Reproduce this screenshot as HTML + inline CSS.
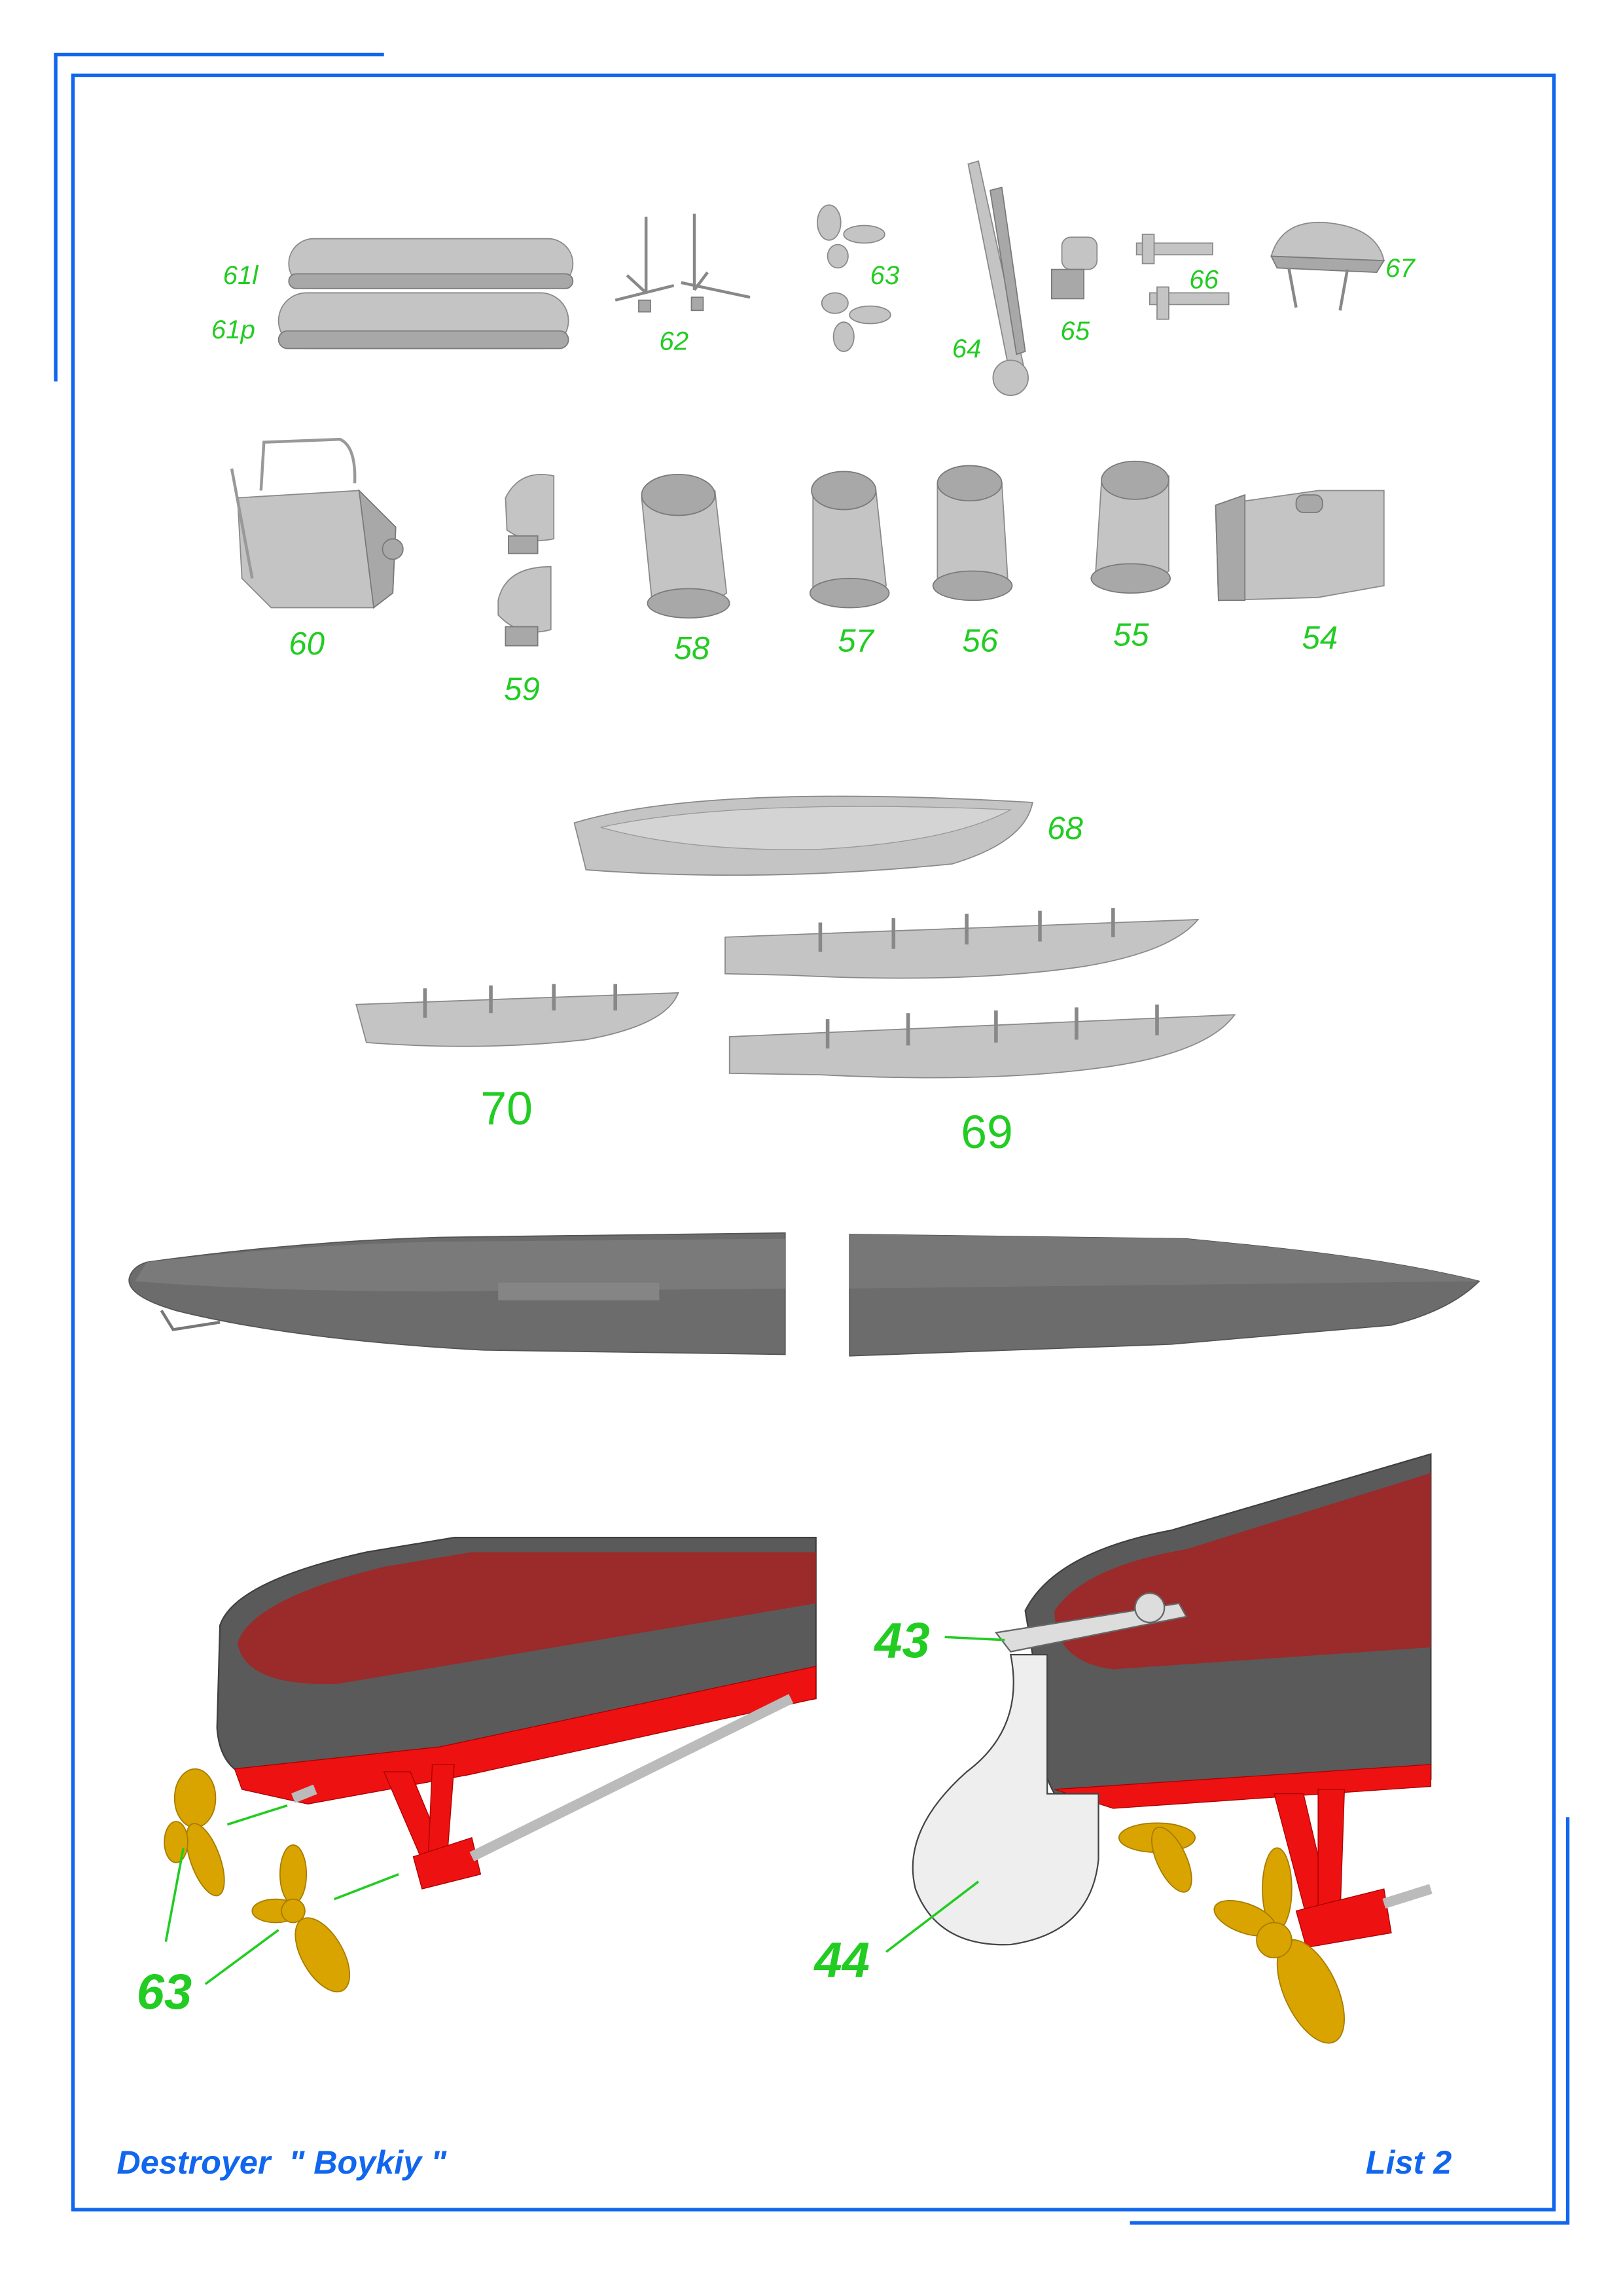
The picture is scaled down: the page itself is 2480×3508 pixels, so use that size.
<!DOCTYPE html>
<html><head><meta charset="utf-8"><style>
html,body{margin:0;padding:0;background:#fff;}
svg{display:block;}
.g{fill:#22cc22;font-family:"Liberation Sans",sans-serif;font-style:italic;}
.gb{fill:#22cc22;font-family:"Liberation Sans",sans-serif;font-style:italic;font-weight:bold;}
.b{fill:#1166ee;font-family:"Liberation Sans",sans-serif;font-style:italic;font-weight:bold;}
.p{fill:#c4c4c4;stroke:#8a8a8a;stroke-width:0.8;}
.pd{fill:#a8a8a8;stroke:#7a7a7a;stroke-width:0.8;}
.y{fill:#d9a400;stroke:#a67c00;stroke-width:0.8;}
.r{fill:#ee1111;stroke:#aa0000;stroke-width:0.6;}
.gl{stroke:#22cc22;stroke-width:1.6;fill:none;}
</style></head><body>
<svg width="2480" height="3508" viewBox="0 0 1108 1568" xmlns="http://www.w3.org/2000/svg">
<g fill="none" stroke="#1166ee" stroke-width="2.4">
<polyline points="37.8,260.5 37.8,37.3 262,37.3"/>
<rect x="49.6" y="51.5" width="1011.5" height="1457.5"/>
<polyline points="771.5,1518 1070.5,1518 1070.5,1241"/>
</g>

<rect x="197" y="163" width="194" height="34" rx="17" class="p"/>
<rect x="197" y="187" width="194" height="10" rx="5" class="pd"/>
<rect x="190" y="200" width="198" height="38" rx="19" class="p"/>
<rect x="190" y="226" width="198" height="12" rx="6" class="pd"/>
<text x="152" y="194" font-size="18" class="g">61l</text>
<text x="144" y="231" font-size="18" class="g">61p</text>
<g stroke="#888" stroke-width="2" fill="none">
<line x1="441" y1="148" x2="441" y2="200"/><line x1="474" y1="146" x2="474" y2="198"/>
<line x1="420" y1="205" x2="460" y2="195"/><line x1="465" y1="193" x2="512" y2="203"/>
<line x1="428" y1="188" x2="441" y2="200"/><line x1="483" y1="186" x2="474" y2="198"/>
</g>
<rect x="436" y="205" width="8" height="8" class="pd"/><rect x="472" y="203" width="8" height="9" class="pd"/>
<text x="450" y="239" font-size="18" class="g">62</text>
<g class="p"><ellipse cx="566" cy="152" rx="8" ry="12"/><ellipse cx="590" cy="160" rx="14" ry="6"/><ellipse cx="572" cy="175" rx="7" ry="8"/>
<ellipse cx="570" cy="207" rx="9" ry="7"/><ellipse cx="594" cy="215" rx="14" ry="6"/><ellipse cx="576" cy="230" rx="7" ry="10"/></g>
<text x="594" y="194" font-size="18" class="g">63</text>
<path d="M661,112 L668,110 L700,255 L690,258 Z" class="p"/>
<path d="M676,130 L684,128 L700,240 L694,242 Z" class="pd"/>
<ellipse cx="690" cy="258" rx="12" ry="12" class="p"/>
<text x="650" y="244" font-size="18" class="g">64</text>
<rect x="725" y="162" width="24" height="22" rx="6" class="p"/><rect x="718" y="184" width="22" height="20" class="pd"/>
<text x="724" y="232" font-size="18" class="g">65</text>
<g class="p"><rect x="776" y="166" width="52" height="8"/><rect x="785" y="200" width="54" height="8"/><rect x="780" y="160" width="8" height="20"/><rect x="790" y="196" width="8" height="22"/></g>
<text x="812" y="197" font-size="18" class="g">66</text>
<path d="M868,175 Q875,150 905,152 Q940,155 945,178 Z" class="p"/>
<path d="M868,175 L945,178 L940,186 L872,183 Z" class="pd"/>
<line x1="880" y1="183" x2="885" y2="210" stroke="#888" stroke-width="2"/><line x1="920" y1="184" x2="915" y2="212" stroke="#888" stroke-width="2"/>
<text x="946" y="189" font-size="18" class="g">67</text>

<path d="M162,340 L245,335 L270,360 L268,405 L255,415 L185,415 L165,395 Z" class="p"/>
<path d="M245,335 L270,360 L268,405 L255,415 Z" class="pd"/>
<path d="M178,335 L180,302 L232,300 Q243,305 242,330" fill="none" stroke="#999" stroke-width="2"/>
<line x1="158" y1="320" x2="172" y2="395" stroke="#999" stroke-width="2"/>
<circle cx="268" cy="375" r="7" class="pd"/>
<text x="197" y="447" font-size="22" class="g">60</text>
<path d="M345,340 Q355,320 378,325 L378,368 Q360,372 346,362 Z" class="p"/>
<path d="M340,410 Q345,387 376,387 L376,430 Q355,436 340,420 Z" class="p"/>
<rect x="347" y="366" width="20" height="12" class="pd"/><rect x="345" y="428" width="22" height="13" class="pd"/>
<text x="344" y="478" font-size="22" class="g">59</text>
<g>
<path d="M438,340 L488,335 L496,405 Q470,425 445,410 Z" class="p"/><ellipse cx="463" cy="338" rx="25" ry="14" class="pd"/><ellipse cx="470" cy="412" rx="28" ry="10" class="pd"/>
<text x="460" y="450" font-size="22" class="g">58</text>
<path d="M555,335 L598,335 L605,400 Q580,420 555,405 Z" class="p"/><ellipse cx="576" cy="335" rx="22" ry="13" class="pd"/><ellipse cx="580" cy="405" rx="27" ry="10" class="pd"/>
<text x="572" y="445" font-size="22" class="g">57</text>
<path d="M640,330 L684,330 L688,395 Q664,415 640,398 Z" class="p"/><ellipse cx="662" cy="330" rx="22" ry="12" class="pd"/><ellipse cx="664" cy="400" rx="27" ry="10" class="pd"/>
<text x="657" y="445" font-size="22" class="g">56</text>
<path d="M752,330 L798,325 L798,390 Q770,410 748,392 Z" class="p"/><ellipse cx="775" cy="328" rx="23" ry="13" class="pd"/><ellipse cx="772" cy="395" rx="27" ry="10" class="pd"/>
<text x="760" y="441" font-size="22" class="g">55</text>
</g>
<path d="M830,345 L900,335 L945,335 L945,400 L900,408 L832,410 Z" class="p"/>
<path d="M830,345 L850,338 L850,410 L832,410 Z" class="pd"/>
<rect x="885" y="338" width="18" height="12" rx="5" class="pd"/>
<text x="889" y="443" font-size="22" class="g">54</text>

<path d="M392,562 Q480,535 705,548 Q700,575 650,590 Q520,603 400,594 Z" class="p"/>
<path d="M410,565 Q500,545 690,553 Q650,575 560,580 Q470,582 410,565 Z" fill="#d4d4d4" stroke="#999" stroke-width="0.6"/>
<text x="715" y="573" font-size="22" class="g">68</text>
<path d="M495,640 L818,628 Q800,650 740,660 Q660,672 540,666 L495,665 Z" class="p"/>
<path d="M498,708 L843,693 Q825,718 760,728 Q680,740 560,734 L498,733 Z" class="p"/>
<path d="M243,686 L463,678 Q455,700 400,710 Q330,718 250,712 Z" class="p"/>
<g stroke="#888" stroke-width="2.5">
<line x1="610" y1="627" x2="610" y2="648"/><line x1="660" y1="624" x2="660" y2="645"/><line x1="710" y1="622" x2="710" y2="643"/><line x1="760" y1="620" x2="760" y2="640"/><line x1="560" y1="630" x2="560" y2="650"/>
<line x1="620" y1="692" x2="620" y2="714"/><line x1="680" y1="690" x2="680" y2="712"/><line x1="735" y1="688" x2="735" y2="710"/><line x1="790" y1="686" x2="790" y2="707"/><line x1="565" y1="696" x2="565" y2="716"/>
<line x1="290" y1="675" x2="290" y2="695"/><line x1="335" y1="673" x2="335" y2="692"/><line x1="378" y1="672" x2="378" y2="690"/><line x1="420" y1="672" x2="420" y2="690"/>
</g>
<text x="328" y="768" font-size="32" class="g" style="font-style:normal">70</text>
<text x="656" y="784" font-size="32" class="g" style="font-style:normal">69</text>

<path d="M100,862 Q200,848 300,845 L536,842 L536,925 L330,922 Q200,915 120,895 Q86,885 88,873 Q90,865 100,862 Z" fill="#6c6c6c" stroke="#555" stroke-width="0.8"/>
<path d="M100,862 Q200,850 300,848 L536,846 L536,880 L300,882 Q180,882 92,875 Z" fill="#7a7a7a"/>
<rect x="340" y="876" width="110" height="12" fill="#858585"/>
<path d="M580,843 L810,846 L850,850 Q950,860 1010,875 Q990,895 950,905 L800,918 L580,926 Z" fill="#6c6c6c" stroke="#555" stroke-width="0.8"/>
<path d="M580,843 L810,846 L850,850 Q950,860 1010,875 L580,880 Z" fill="#777"/>
<path d="M110,895 L118,908 L150,903" fill="none" stroke="#777" stroke-width="2"/>

<path d="M150,1110 Q160,1080 250,1060 L310,1050 L557,1050 L557,1160 L300,1200 L175,1215 Q150,1210 148,1180 Z" fill="#5a5a5a" stroke="#3f3f3f" stroke-width="1"/>
<path d="M162,1122 Q172,1092 262,1070 L322,1060 L557,1060 L557,1095 L230,1150 Q167,1152 162,1122 Z" fill="#9b2a2a"/>
<path d="M160,1208 L300,1193 L557,1138 L557,1160 L320,1212 L210,1232 L165,1222 Z" class="r"/>
<path d="M262,1210 L280,1210 L300,1258 L290,1275 Z" class="r"/>
<path d="M295,1205 L310,1205 L305,1270 L292,1275 Z" class="r"/>
<path d="M282,1268 L322,1255 L328,1280 L288,1290 Z" class="r"/>
<line x1="322" y1="1268" x2="540" y2="1160" stroke="#bbb" stroke-width="7"/>
<line x1="200" y1="1228" x2="215" y2="1222" stroke="#bbb" stroke-width="7"/>
<g class="y">
<ellipse cx="133" cy="1228" rx="14" ry="20"/><ellipse cx="140" cy="1270" rx="10" ry="26" transform="rotate(-20 140 1270)"/><ellipse cx="120" cy="1258" rx="8" ry="14"/>
<ellipse cx="200" cy="1280" rx="9" ry="20"/><ellipse cx="188" cy="1305" rx="16" ry="8"/><ellipse cx="220" cy="1335" rx="14" ry="28" transform="rotate(-30 220 1335)"/><circle cx="200" cy="1305" r="8"/>
</g>
<line x1="155" y1="1246" x2="196" y2="1233" class="gl"/>
<line x1="228" y1="1297" x2="272" y2="1280" class="gl"/>
<line x1="113" y1="1326" x2="125" y2="1262" class="gl"/>
<line x1="140" y1="1355" x2="190" y2="1318" class="gl"/>
<text x="93" y="1372" font-size="34" class="gb">63</text>

<path d="M700,1100 Q720,1060 800,1045 L977,993 L977,1215 L720,1225 Q705,1200 705,1130 Z" fill="#5a5a5a" stroke="#3f3f3f" stroke-width="1"/>
<path d="M720,1100 Q740,1070 810,1058 L977,1006 L977,1125 L760,1140 Q720,1135 720,1100 Z" fill="#9b2a2a"/>
<path d="M720,1222 L977,1205 L977,1220 L760,1235 Z" class="r"/>
<path d="M870,1225 L890,1225 L910,1310 L895,1320 Z" class="r"/>
<path d="M900,1222 L918,1222 L915,1310 L900,1312 Z" class="r"/>
<path d="M885,1305 L945,1290 L950,1320 L892,1330 Z" class="r"/>
<line x1="945" y1="1300" x2="977" y2="1290" stroke="#bbb" stroke-width="7"/>
<path d="M690,1130 Q700,1180 660,1210 Q615,1250 625,1290 Q640,1330 690,1328 Q745,1320 750,1270 L750,1225 L715,1225 L715,1130 Z" fill="#eeeeee" stroke="#444" stroke-width="1"/>
<path d="M680,1115 L805,1095 L810,1104 L690,1128 Z" fill="#ddd" stroke="#666" stroke-width="1"/>
<circle cx="785" cy="1098" r="10" fill="#ddd" stroke="#666"/>
<g class="y">
<ellipse cx="790" cy="1255" rx="26" ry="10"/><ellipse cx="800" cy="1270" rx="10" ry="24" transform="rotate(-25 800 1270)"/>
<ellipse cx="872" cy="1290" rx="10" ry="28"/><ellipse cx="850" cy="1310" rx="22" ry="10" transform="rotate(20 850 1310)"/><ellipse cx="895" cy="1360" rx="18" ry="38" transform="rotate(-25 895 1360)"/><circle cx="870" cy="1325" r="12"/>
</g>
<line x1="645" y1="1118" x2="686" y2="1120" class="gl"/>
<line x1="605" y1="1333" x2="668" y2="1285" class="gl"/>
<text x="597" y="1132" font-size="34" class="gb">43</text>
<text x="556" y="1350" font-size="34" class="gb">44</text>

<text x="79.5" y="1484.5" font-size="22.5" class="b" xml:space="preserve">Destroyer  " Boykiy "</text>
<text x="932.5" y="1484.5" font-size="22.5" class="b">List 2</text>
</svg>
</body></html>
